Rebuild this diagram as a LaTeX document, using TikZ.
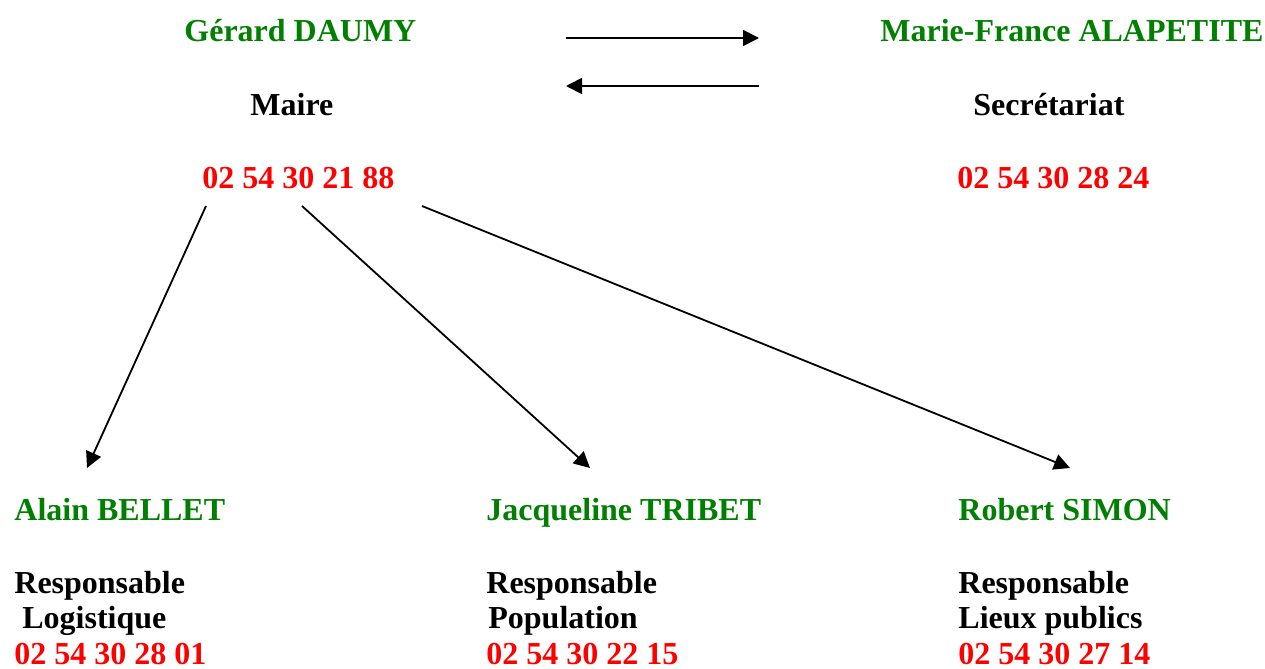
\documentclass[tikz,border=0pt]{standalone}
\usepackage{fontspec}
\setmainfont{Liberation Serif}
\usetikzlibrary{arrows.meta}
\definecolor{vert}{RGB}{0,128,0}
\definecolor{rouge}{RGB}{255,0,0}

\begin{document}
\begin{tikzpicture}[x=0.5pt, y=-0.5pt,
    >={Triangle[length=8pt,width=8pt]},
    txt/.style={anchor=base west, inner sep=0pt, font=\fontsize{16}{19}\selectfont\bfseries},
    nom/.style={txt, text=vert},
    tel/.style={txt, text=rouge},
    fleche/.style={->, line width=0.9pt}]
  \useasboundingbox (0,0) rectangle (1265,669);
  % haut
  \node[nom] (maire) at (184,41) {Gérard DAUMY};
  \node[txt] (mairefn) at (250,115) {Maire};
  \node[tel] (mairetel) at (202,188) {02 54 30 21 88};
  \node[nom] (secr) at (880,41) {Marie-France ALAPETITE};
  \node[txt] (secrfn) at (973,115) {Secrétariat};
  \node[tel] (secrtel) at (957,188) {02 54 30 28 24};
  % bas
  \node[nom] (bellet) at (14,520) {Alain BELLET};
  \node[txt] (belletfn) at (14,593) {Responsable};
  \node[txt] (belletsv) at (22,628) {Logistique};
  \node[tel] (bellettel) at (14,664) {02 54 30 28 01};
  \node[nom] (tribet) at (486,520) {Jacqueline TRIBET};
  \node[txt] (tribetfn) at (486,593) {Responsable};
  \node[txt] (tribetsv) at (488,628) {Population};
  \node[tel] (tribettel) at (486,664) {02 54 30 22 15};
  \node[nom] (simon) at (958,520) {Robert SIMON};
  \node[txt] (simonfn) at (958,593) {Responsable};
  \node[txt] (simonsv) at (958,628) {Lieux publics};
  \node[tel] (simontel) at (958,664) {02 54 30 27 14};
  % fleches
  \coordinate (a1) at (566,38);
  \coordinate (a2) at (759,38);
  \coordinate (b1) at (759,86);
  \coordinate (b2) at (566,86);
  \coordinate (d1) at (206,206);
  \coordinate (d2) at (302,206);
  \coordinate (d3) at (422,206);
  \coordinate (f1) at (87,468);
  \coordinate (f2) at (590,468);
  \coordinate (f3) at (1070,468);
  \draw[fleche] (a1) -- (a2);
  \draw[fleche] (b1) -- (b2);
  \draw[fleche] (d1) -- (f1);
  \draw[fleche] (d2) -- (f2);
  \draw[fleche] (d3) -- (f3);
\end{tikzpicture}
\end{document}
